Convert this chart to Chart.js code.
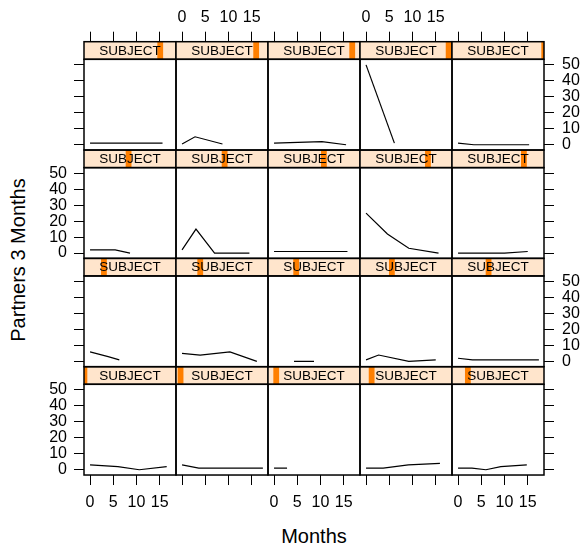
<!DOCTYPE html>
<html lang="en">
<head>
<meta charset="UTF-8">
<title>Partners 3 Months by SUBJECT</title>
<script src="https://cdn.jsdelivr.net/npm/chart.js"></script>
<style>
  body { margin: 0; background: #fff; }
  #wrap { position: relative; width: 584px; height: 544px; overflow: hidden; background: #fff;
          font-family: "Liberation Sans", Arial, sans-serif; }
  #wrap canvas { position: absolute; }
  .lab { position: absolute; font-size: 20px; line-height: 20px; height: 20px; text-align: center; color: #000; white-space: nowrap; }
</style>
</head>
<body>
<div id="wrap">
  <div class="lab" style="left:0;top:526px;width:628px;">Months</div>
  <div class="lab" style="left:-132px;top:250px;width:300px;transform:rotate(-90deg);">Partners 3 Months</div>
</div>
<script>
// panels in lattice order: bottom-left first, left to right, then upwards
var months = [
    [0, 6, 10.6, 16.5], [0, 3.6, 17.4], [0, 2.8], [0, 3.7, 9.1, 15.9], [0, 3, 6, 9.2, 14.8],
    [0, 3.9, 6.3], [0, 3.9, 10.3, 16.1], [4.3, 8.6], [0, 2.7, 9.2, 15], [0, 3.1, 17.4],
    [0, 5.4, 8.6], [0, 3, 7, 14.5], [0, 15.8], [0, 4.6, 9.2, 15.6], [0, 10, 15],
    [0, 15.6], [0, 2.8, 8.7], [0, 10.3, 15.5], [0, 6.1], [0, 3.4, 15.3]
];
var partners = [
    [3, 2, 0, 2], [3, 1, 1], [1, 1], [1, 1, 3, 4], [1, 1, 0, 2, 3],
    [6, 3, 1], [5, 4, 6, 0], [0, 0], [1, 4, 0, 1], [2, 1, 1],
    [2, 2, 0], [2, 15, 0, 0], [1, 1], [25, 12, 3, 0], [0, 0, 1],
    [1, 1], [0.5, 5, 0.5], [1, 2, 0], [50, 1], [1, 0, 0]
];
// SUBJECT shingle interval of each panel, as % of the whole SUBJECT range
var subjectFrom = [0, 1.8, 5.8, 9.5, 14.1, 18.5, 23.2, 27.5, 31.5, 36.6,
                   45.3, 49.7, 57.6, 70.7, 75, 79.7, 84, 88.4, 93.2, 97.1];
var subjectTo = [3.6, 8.1, 12.1, 15.8, 20.4, 24.8, 29.5, 33.8, 37.8, 42.9,
                 51.6, 56, 63.9, 77, 81.3, 86, 90.3, 94.7, 99.5, 100];
var xTicks = [0, 5, 10, 15];
var yTicks = [0, 10, 20, 30, 40, 50];
var xRange = [-1.3, 18.5];
var yRange = [-3.3, 53.5];

var fam = '"Liberation Sans", Arial, sans-serif';
var nCol = 5, nRow = 4;
var left0 = 84, top0 = 41.7, colW = 92, rowH = 108.33, stripH = 17.6, m = 40;
var wrap = document.getElementById('wrap');

var stripPlugin = {
    id: 'stripBox',
    afterDraw: function (chart) {
        var a = chart.chartArea, c = chart.ctx, i = chart.$panel;
        var w = a.right - a.left, sy = a.top - stripH;
        c.save();
        c.fillStyle = '#ffe5cc';
        c.fillRect(a.left, sy, w, stripH);
        var b0 = subjectFrom[i] / 100 * w, b1 = subjectTo[i] / 100 * w;
        c.fillStyle = '#ff7f00';
        c.fillRect(a.left + b0, sy, b1 - b0, stripH);
        c.fillStyle = '#000';
        c.font = '13.5px ' + fam;
        c.textAlign = 'center';
        c.textBaseline = 'middle';
        c.fillText('SUBJECT', (a.left + a.right) / 2, sy + stripH / 2 + 0.5);
        c.strokeStyle = '#000';
        c.lineWidth = 1.5;
        c.strokeRect(a.left, sy, w, stripH);
        c.strokeRect(a.left, a.top, w, a.bottom - a.top);
        c.restore();
    }
};

function axis(pos, range, ticks, size, showTicks, showLabels, pad) {
    return {
        type: 'linear', position: pos, min: range[0], max: range[1], weight: 1,
        afterBuildTicks: function (s) { s.ticks = ticks.map(function (v) { return { value: v }; }); },
        afterFit: function (s) {
            if (pos === 'left' || pos === 'right') s.width = size; else s.height = size;
        },
        border: { display: false },
        grid: { display: showTicks, drawOnChartArea: false, drawTicks: true, tickLength: 10,
                tickColor: '#000', tickWidth: 1 },
        ticks: { color: showLabels ? '#000' : 'rgba(0,0,0,0)', padding: pad, autoSkip: false,
                 maxRotation: 0, font: { family: fam, size: 16 } }
    };
}

for (var i = 0; i < months.length; i++) {
    var col = i % nCol, rowUp = Math.floor(i / nCol), row = nRow - 1 - rowUp;
    var px = left0 + col * colW, py = top0 + row * rowH;
    var cx = Math.floor(px - m), cy = Math.floor(py - m);
    var padL = px - cx, padT = py - cy;
    var w = Math.ceil(padL + colW + m), h = Math.ceil(padT + rowH + m);
    var padR = w - padL - colW, padB = h - padT - rowH;

    var canvas = document.createElement('canvas');
    canvas.width = w;
    canvas.height = h;
    canvas.style.left = cx + 'px';
    canvas.style.top = cy + 'px';
    wrap.appendChild(canvas);

    var pts = months[i].map(function (x, k) { return { x: x, y: partners[i][k] }; });
    var chart = new Chart(canvas.getContext('2d'), {
        type: 'line',
        data: {
            datasets: [{
                data: pts,
                borderColor: '#000',
                borderWidth: 1.2,
                pointRadius: 0,
                fill: false,
                tension: 0,
                xAxisID: 'x',
                yAxisID: 'y'
            }]
        },
        options: {
            responsive: false,
            animation: false,
            devicePixelRatio: 1,
            events: [],
            layout: { padding: 0 },
            plugins: { legend: { display: false }, tooltip: { enabled: false } },
            scales: {
                x: axis('bottom', xRange, xTicks, padB, rowUp === 0, rowUp === 0 && col % 2 === 0, 8),
                x2: axis('top', xRange, xTicks, padT, rowUp === nRow - 1, rowUp === nRow - 1 && col % 2 === 1, 5),
                strip: {
                    type: 'linear', position: 'top', weight: 0, min: 0, max: 1,
                    grid: { display: false }, border: { display: false }, ticks: { display: false },
                    afterFit: function (s) { s.height = stripH; }
                },
                y: axis('left', yRange, yTicks, padL, col === 0, col === 0 && rowUp % 2 === 0, 7),
                y2: axis('right', yRange, yTicks, padR, col === nCol - 1, col === nCol - 1 && rowUp % 2 === 1, 8)
            }
        },
        plugins: [stripPlugin]
    });
    chart.$panel = i;
    chart.update();
}
</script>
</body>
</html>
